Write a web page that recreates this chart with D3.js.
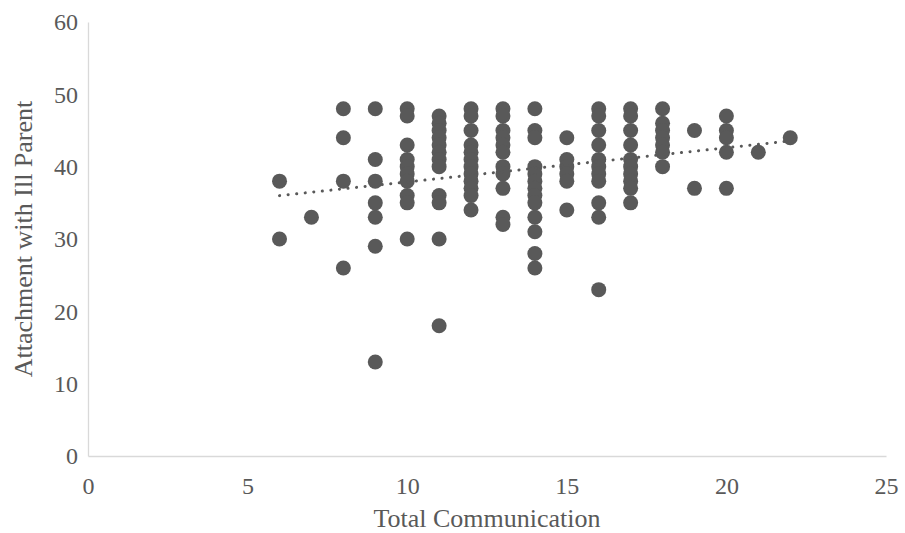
<!DOCTYPE html>
<html>
<head>
<meta charset="utf-8">
<script src="https://cdn.jsdelivr.net/npm/d3@7"></script>
<style>
  html, body { margin: 0; padding: 0; background: #fff; }
  svg { display: block; }
  svg text { font-family: "Liberation Serif", "Times New Roman", Times, serif !important; fill: #595959; }
</style>
</head>
<body>
<svg id="chart" width="905" height="533"></svg>
<script>
// Data: Total Communication (x) -> Attachment with Ill Parent values (y)
const commValues = [6, 7, 8, 9, 10, 11, 12, 13, 14, 15, 16, 17, 18, 19, 20, 21, 22];
const attachmentByComm = [
  [38, 30],
  [33],
  [48, 44, 38, 26],
  [48, 41, 38, 35, 33, 29, 13],
  [48, 47, 43, 41, 40, 39, 38, 36, 35, 30],
  [47, 46, 45, 44, 43, 42, 41, 40, 36, 35, 30, 18],
  [48, 47, 45, 43, 42, 41, 40, 39, 38, 37, 36, 34],
  [48, 47, 45, 44, 43, 42, 40, 39, 37, 33, 32],
  [48, 45, 44, 40, 39, 38, 37, 36, 35, 33, 31, 28, 26],
  [44, 41, 40, 39, 38, 34],
  [48, 47, 45, 43, 41, 40, 39, 38, 35, 33, 23],
  [48, 47, 45, 43, 41, 40, 39, 38, 37, 35],
  [48, 46, 45, 44, 43, 42, 40],
  [45, 37],
  [47, 45, 44, 42, 37],
  [42],
  [44]
];
const xTicks = [0, 5, 10, 15, 20, 25];
const yTicks = [0, 10, 20, 30, 40, 50, 60];
const xTitle = "Total Communication";
const yTitle = "Attachment with Ill Parent";

const points = [];
commValues.forEach((c, i) => attachmentByComm[i].forEach(v => points.push({x: c, y: v})));

const FONT = "'Liberation Serif', 'Times New Roman', Times, serif";
const svg = d3.select("#chart");
const plotLeft = 88, plotRight = 886, plotTop = 22, plotBottom = 456;
const x = d3.scaleLinear().domain([0, 25]).range([plotLeft, plotRight]);
const y = d3.scaleLinear().domain([0, 60]).range([plotBottom, plotTop]);

const xAxis = svg.append("g").attr("transform", `translate(0,${plotBottom})`)
  .call(d3.axisBottom(x).tickValues(xTicks).tickSize(0).tickPadding(21));
xAxis.attr("font-family", FONT).attr("font-size", 24);
xAxis.select(".domain").attr("stroke", "#d9d9d9").attr("stroke-width", 1.3);
xAxis.selectAll("text").attr("fill", "#595959");

const yAxis = svg.append("g").attr("transform", `translate(${plotLeft},0)`)
  .call(d3.axisLeft(y).tickValues(yTicks).tickSize(0).tickPadding(10));
yAxis.attr("font-family", FONT).attr("font-size", 24);
yAxis.select(".domain").attr("stroke", "#d9d9d9").attr("stroke-width", 1.3);
yAxis.selectAll("text").attr("fill", "#595959");

// trendline (least squares)
const mx = d3.mean(points, d => d.x), my = d3.mean(points, d => d.y);
const sxy = d3.sum(points, d => (d.x - mx) * (d.y - my));
const sxx = d3.sum(points, d => (d.x - mx) ** 2);
const slope = sxy / sxx, intercept = my - slope * mx;
const xMin = d3.min(commValues), xMax = d3.max(commValues);

svg.append("g").selectAll("circle").data(points).join("circle")
  .attr("cx", d => x(d.x)).attr("cy", d => y(d.y)).attr("r", 7.5)
  .attr("fill", "#595959");

svg.append("line")
  .attr("x1", x(xMin)).attr("y1", y(intercept + slope * xMin))
  .attr("x2", x(xMax)).attr("y2", y(intercept + slope * xMax))
  .attr("stroke", "#595959").attr("stroke-width", 3)
  .attr("stroke-dasharray", "0.1 8.5").attr("stroke-linecap", "round");

svg.append("text").attr("x", (plotLeft + plotRight) / 2).attr("y", 527)
  .attr("text-anchor", "middle").attr("font-size", 26).attr("font-family", FONT).text(xTitle);
svg.append("text").attr("transform", `translate(32,${(plotTop + plotBottom) / 2}) rotate(-90)`)
  .attr("text-anchor", "middle").attr("font-size", 26).attr("font-family", FONT).text(yTitle);
</script>
</body>
</html>
